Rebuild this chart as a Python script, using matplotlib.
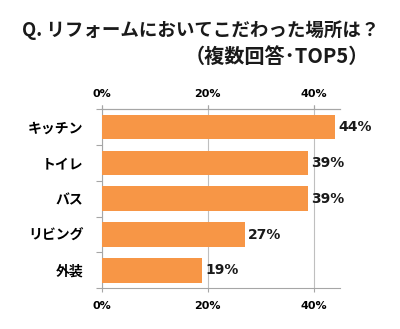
import matplotlib
matplotlib.use("Agg")
import matplotlib.pyplot as plt
import numpy as np

plt.rcParams['font.family'] = ['Noto Sans CJK JP', 'DejaVu Sans']

categories = ["キッチン", "トイレ", "バス", "リビング", "外装"]
values = [44, 39, 39, 27, 19]
xticks = [0, 20, 40]
xtick_labels = ["0%", "20%", "40%"]
title_line1 = "Q. リフォームにおいてこだわった場所は？"
title_line2 = "（複数回答･TOP5）"

bar_color = "#F79646"
axis_color = "#A6A6A6"
grid_color = "#BFBFBF"
text_color = "#1a1a1a"
num_font = "DejaVu Sans"

fig = plt.figure(figsize=(4.0, 3.29), dpi=100)
ax = fig.add_axes([0.254, 0.1237, 0.596, 0.545])

y = np.arange(len(categories))
ax.barh(y, values, height=0.68, color=bar_color, zorder=3)

ax.set_xlim(0, 45)
ax.set_ylim(len(categories) - 0.5, -0.5)

for yi, v in zip(y, values):
    ax.text(v + 0.6, yi, f"{v}%", va="center", ha="left", family=num_font,
            fontsize=10, fontweight="bold", color=text_color, zorder=4)

# bottom x axis
ax.set_xticks(xticks)
ax.set_xticklabels(xtick_labels, fontweight="bold", family=num_font)
ax.tick_params(axis="x", which="major", top=True, bottom=True,
               labeltop=False, labelbottom=True, length=3,
               color=axis_color, labelsize=8, pad=6)
ax.xaxis.grid(True, color=grid_color, linewidth=0.8, zorder=0)

# top x axis with the same labels
top = ax.secondary_xaxis("top")
top.set_xticks(xticks)
top.set_xticklabels(xtick_labels, fontweight="bold", family=num_font)
top.tick_params(axis="x", length=3, color=axis_color, labelsize=8, pad=4)
top.spines["top"].set_color(axis_color)
top.spines["top"].set_linewidth(0.8)

# y axis: category labels, tick marks on category boundaries
ax.set_yticks(y)
ax.set_yticklabels(categories, fontweight="bold")
ax.set_yticks(np.arange(-0.5, len(categories) + 0.5, 1), minor=True)
ax.tick_params(axis="y", which="major", length=0, pad=13, labelsize=10)
ax.tick_params(axis="y", which="minor", length=4, color=axis_color, width=0.8)

for side in ["top", "bottom", "left"]:
    ax.spines[side].set_color(axis_color)
    ax.spines[side].set_linewidth(0.8)
ax.spines["right"].set_visible(False)

fig.text(22 / 400, 1 - 30 / 329, title_line1, ha="left", va="center",
         fontsize=13.3, fontweight="bold", color=text_color)
fig.text(369 / 400, 1 - 56 / 329, title_line2, ha="right", va="center",
         fontsize=14.5, fontweight="bold", color=text_color)

fig.savefig("out.png", dpi=100, facecolor="white")
